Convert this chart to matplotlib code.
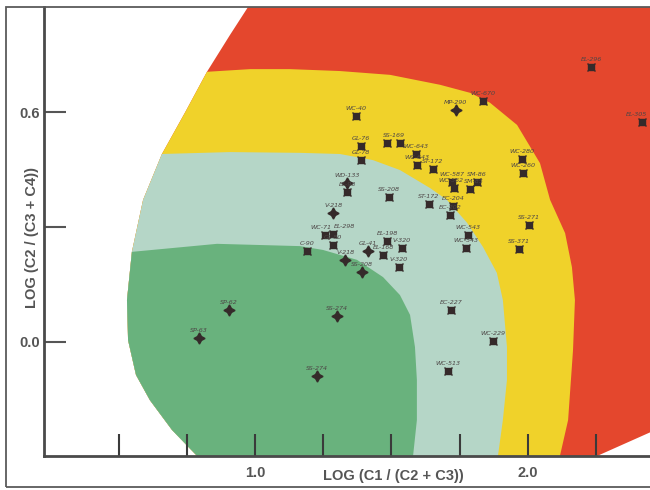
import matplotlib
matplotlib.use("Agg")
from matplotlib import pyplot as plt
from matplotlib.patches import Polygon, Rectangle

# field boundaries, in LOG(C1/(C2+C3)) vs LOG(C2/(C3+C4)) units
outer_x = [0.974, 0.908, 0.824, 0.744, 0.659, 0.590, 0.549, 0.531, 0.535, 0.564, 0.615, 0.696, 0.788]
outer_y = [0.875, 0.802, 0.706, 0.600, 0.491, 0.371, 0.235, 0.109, 0.004, -0.087, -0.153, -0.231, -0.299]

red_yellow_x = [0.824, 0.982, 1.128, 1.311, 1.495, 1.678, 1.788, 1.861, 1.960, 2.044, 2.081, 2.136, 2.161, 2.172, 2.165, 2.147, 2.117]
red_yellow_y = [0.706, 0.713, 0.713, 0.708, 0.698, 0.672, 0.651, 0.625, 0.567, 0.467, 0.371, 0.284, 0.195, 0.109, -0.022, -0.205, -0.299]

yellow_teal_x = [0.659, 0.908, 1.165, 1.311, 1.432, 1.531, 1.641, 1.703, 1.777, 1.835, 1.886, 1.908, 1.923, 1.923, 1.908, 1.890]
yellow_teal_y = [0.491, 0.496, 0.494, 0.491, 0.475, 0.449, 0.402, 0.371, 0.311, 0.248, 0.180, 0.109, -0.014, -0.100, -0.205, -0.299]

teal_green_x = [0.549, 0.861, 1.165, 1.249, 1.374, 1.469, 1.531, 1.568, 1.586, 1.593, 1.593, 1.579]
teal_green_y = [0.235, 0.256, 0.250, 0.240, 0.214, 0.169, 0.122, 0.070, -0.014, -0.100, -0.205, -0.299]

# lower right edge of the red field
red_edge_x = [2.253, 2.630, 2.630, 0.960]
red_edge_y = [-0.299, -0.179, 0.950, 0.950]

# samples plotted as squares
sq_names = ["WC-670", "WC-40", "GL-76", "SS-169", "", "WC-643", "GL-78", "WC-643", "ST-172",
            "WC-280", "WC-260", "WC-587", "SM-86", "WC-562", "SM-85", "EL-98", "SS-208",
            "ST-172", "EC-204", "EC-202", "WC-71", "EL-298", "GL-80", "C-90", "EL-198",
            "V-320", "EL-168", "V-320", "WC-543", "WC-543", "SS-271", "SS-371", "EC-227",
            "WC-229", "WC-513", "EL-296", "EL-305"]
sq_x = [1.835, 1.370, 1.388, 1.484, 1.531, 1.590, 1.388, 1.593, 1.652,
        1.978, 1.982, 1.722, 1.813, 1.729, 1.788, 1.337, 1.491,
        1.637, 1.725, 1.714, 1.256, 1.286, 1.286, 1.190, 1.484,
        1.538, 1.469, 1.527, 1.780, 1.773, 2.004, 1.967, 1.718,
        1.872, 1.707, 2.231, 2.418]
sq_y = [0.630, 0.590, 0.512, 0.520, 0.520, 0.491, 0.475, 0.462, 0.452,
        0.478, 0.441, 0.418, 0.418, 0.402, 0.399, 0.392, 0.378,
        0.360, 0.355, 0.331, 0.279, 0.282, 0.253, 0.237, 0.263,
        0.245, 0.227, 0.195, 0.279, 0.245, 0.305, 0.242, 0.083,
        0.002, -0.077, 0.719, 0.575]

# samples plotted as stars
st_names = ["MP-290", "WD-133", "V-218", "GL-41", "V-218", "SS-208", "SP-62", "SP-63", "SS-274", "SS-274"]
st_x = [1.736, 1.337, 1.286, 1.414, 1.330, 1.392, 0.905, 0.795, 1.300, 1.227]
st_y = [0.606, 0.415, 0.337, 0.237, 0.214, 0.182, 0.083, 0.010, 0.067, -0.090]

# sideways nudges (points) for crowded labels
nudge = {"EL-298": 8, "WC-71": -3, "SS-169": 5, "WC-562": -2, "SM-85": 3, "EL-305": -4}

fig = plt.figure(figsize=(6.5, 4.9), dpi=100)
ax = fig.add_axes([44 / 650, 34 / 490, 606 / 650, 449 / 490])
ax.set_xlim(0.227, 2.447)
ax.set_ylim(-0.299, 0.8755)


def field(xs, ys, color, z):
    ax.add_patch(Polygon(list(zip(xs, ys)), closed=True, facecolor=color,
                         edgecolor="none", zorder=z))


# red: whole envelope
field(outer_x + red_edge_x, outer_y + red_edge_y, "#e4472d", 0.1)
# yellow, teal, green: outer curve from where the band starts, back along its inner boundary
i = outer_y.index(0.706)
field(outer_x[i:] + red_yellow_x[::-1], outer_y[i:] + red_yellow_y[::-1], "#f0d22a", 0.2)
i = outer_y.index(0.491)
field(outer_x[i:] + yellow_teal_x[::-1], outer_y[i:] + yellow_teal_y[::-1], "#b5d6c7", 0.3)
i = outer_y.index(0.235)
field(outer_x[i:] + teal_green_x[::-1], outer_y[i:] + teal_green_y[::-1], "#69b27d", 0.4)

mark_col = "#352a2a"
ax.plot(sq_x, sq_y, "s", ms=4.2, color=mark_col, zorder=6)
ax.plot(sq_x, sq_y, "x", ms=5.5, mew=1.0, color=mark_col, zorder=6)
ax.plot(st_x, st_y, marker=(4, 1, 0), ls="none", ms=8, color=mark_col, zorder=6)

for n, x, y in zip(sq_names + st_names, sq_x + st_x, sq_y + st_y):
    ax.annotate(n, (x, y), xytext=(nudge.get(n, 0), 3.5), textcoords="offset points",
                ha="center", va="bottom", fontsize=4.6, style="italic", color="#4d4646",
                zorder=7)

ax.spines["top"].set_visible(False)
ax.spines["right"].set_visible(False)
for s in ["left", "bottom"]:
    ax.spines[s].set_color("#4a4a4a")
    ax.spines[s].set_linewidth(2)
    ax.spines[s].set_zorder(8)

ax.set_xticks([0.5, 0.75, 1.0, 1.25, 1.5, 1.75, 2.0, 2.25])
ax.set_xticklabels(["", "", "1.0", "", "", "", "2.0", ""])
ax.set_yticks([0.0, 0.3, 0.6])
ax.set_yticklabels(["0.0", "", "0.6"])
ax.tick_params(axis="x", direction="in", length=16, width=1.5, color="#3a3a3a", pad=7)
ax.tick_params(axis="y", direction="in", length=16, width=1.5, color="#555555", pad=3)
for lab in ax.get_xticklabels() + ax.get_yticklabels():
    lab.set_fontfamily("Liberation Sans")
    lab.set_fontweight("bold")
    lab.set_fontsize(10.5)
    lab.set_color("#555555")

fig.text(393 / 650, 1 - 476 / 490, "LOG (C1 / (C2 + C3))", ha="center", va="center",
         family="Liberation Sans", weight="bold", fontsize=10.5, color="#555555")
fig.text(32 / 650, 1 - 237 / 490, "LOG (C2 / (C3 + C4))", ha="center", va="center",
         rotation=90, family="Liberation Sans", weight="bold", fontsize=10.5, color="#555555")

# page frame
fig.add_artist(Rectangle((6 / 650, 3 / 490), 1.2, 480 / 490, transform=fig.transFigure,
                         fill=False, edgecolor="#5a5a5a", linewidth=1.3, zorder=10))

fig.savefig("out.png", dpi=100)
